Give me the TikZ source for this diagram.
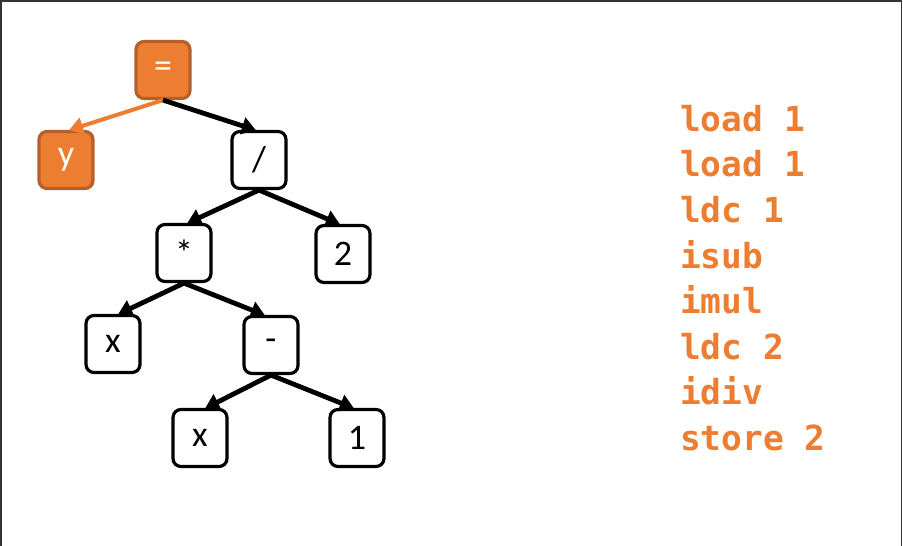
\documentclass[tikz,border=0pt]{standalone}
\usepackage{fontspec}
\setmainfont{Carlito}
\newfontfamily\codefont{DejaVu Sans Mono}
\usetikzlibrary{arrows.meta}
\definecolor{orng}{HTML}{ED7D31}
\definecolor{orngdark}{HTML}{B5602A}
\definecolor{framegray}{HTML}{333333}
\tikzset{
  treebox/.style={draw=black, line width=3.2pt, rounded corners=8pt, fill=white,
    minimum width=54pt, minimum height=57pt, inner sep=0pt, font=\fontsize{36}{40}\selectfont},
  orangebox/.style={treebox, draw=orngdark, fill=orng, text=white},
  edge/.style={line width=4.8pt, -{Triangle[length=14pt,width=17pt]}, shorten >=-1pt},
  orangeedge/.style={edge, draw=orng, line width=4pt},
  codeline/.style={anchor=base west, text=orng, inner sep=0pt, font=\codefont\bfseries\fontsize{34.5}{36}\selectfont}
}
\begin{document}
\begin{tikzpicture}[x=1pt, y=-1pt]
\useasboundingbox (0,0) rectangle (903,546);
\fill[white] (0,0) rectangle (903,546);
\draw[framegray, line width=1.5pt] (0.75,546) -- (0.75,0.9) -- (901.5,0.9) -- (901.5,546);
\node[orangebox] (eq) at (163,70) {=};
\node[orangebox] (y) at (66,160) {y};
\node[treebox] (div) at (259,160) {/};
\node[treebox] (mul) at (184,253) {*};
\node[treebox] (two) at (343,254) {2};
\node[treebox] (x1) at (113,344) {x};
\node[treebox] (sub) at (271,345) {-};
\node[treebox] (x2) at (200,438) {x};
\node[treebox] (one) at (357,438) {1};
\draw[orangeedge] (eq.south) -- ([xshift=4pt]y.north);
\draw[edge] (eq.south) -- ([xshift=-4pt]div.north);
\draw[edge] (div.south) -- ([xshift=4pt]mul.north);
\draw[edge] (div.south) -- ([xshift=-4pt]two.north);
\draw[edge] (mul.south) -- ([xshift=6pt]x1.north);
\draw[edge] (mul.south) -- ([xshift=-7pt]sub.north);
\draw[edge] (sub.south) -- ([xshift=6pt]x2.north);
\draw[edge] (sub.south) -- ([xshift=-4pt]one.north);
\node[codeline] (c1) at (680,131) {load 1};
\node[codeline] (c2) at (680,176) {load 1};
\node[codeline] (c3) at (680,222) {ldc 1};
\node[codeline] (c4) at (680,268) {isub};
\node[codeline] (c5) at (680,313) {imul};
\node[codeline] (c6) at (680,359) {ldc 2};
\node[codeline] (c7) at (680,404) {idiv};
\node[codeline] (c8) at (680,450) {store 2};
\end{tikzpicture}
\end{document}
